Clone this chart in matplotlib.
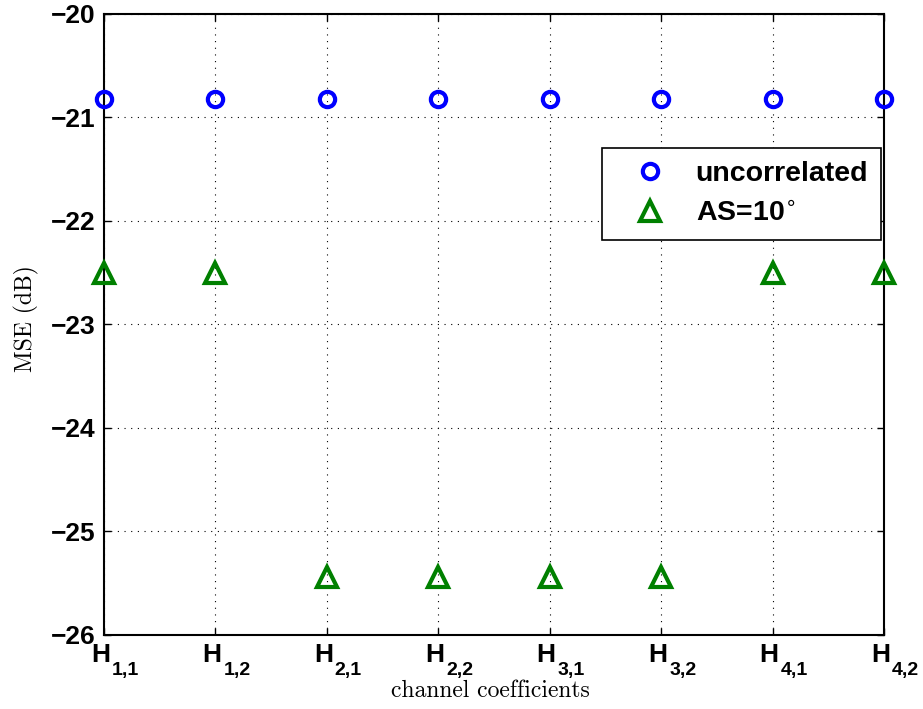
import numpy as np
import matplotlib.pyplot as plt
import matplotlib.transforms as mtransforms

labels = ['1,1', '1,2', '2,1', '2,2', '3,1', '3,2', '4,1', '4,2']
uncorrelated = [-20.82, -20.82, -20.82, -20.82, -20.82, -20.82, -20.82, -20.82]
as10 = [-22.50, -22.50, -25.44, -25.44, -25.44, -25.44, -22.50, -22.50]
yticks = [-26, -25, -24, -23, -22, -21, -20]

fig = plt.figure(figsize=(9.23, 7.09), dpi=100)
ax = fig.add_axes([0.1127, 0.1044, 0.845, 0.8759])

x = np.arange(1, len(labels) + 1)
ax.plot(x, uncorrelated, linestyle='none', marker='o', ms=11, mew=3,
        mfc='none', mec=(0, 0, 1), label='uncorrelated', clip_on=False, zorder=5)
ax.plot(x, as10, linestyle='none', marker='^', ms=15, mew=3,
        mfc='none', mec=(0, 0.5, 0), label=r'AS=10$^{\circ}$', clip_on=False, zorder=5)

ax.set_xlim(1, 8)
ax.set_ylim(-26, -20)
ax.set_xticks(x)
ax.set_xticklabels(['H'] * len(labels))
ax.set_yticks(yticks)
ax.set_yticklabels(['\u2212%d' % -v for v in yticks])

ax.tick_params(direction='in', length=5, width=1, top=True, right=True, pad=6)
ax.grid(True, linestyle=(0, (1, 5)), color='black', linewidth=0.8)
for s in ax.spines.values():
    s.set_linewidth(1.5)

for t in ax.get_yticklabels():
    t.set_fontfamily('Liberation Sans')
    t.set_fontweight('bold')
    t.set_fontsize(19)
shift = mtransforms.ScaledTranslation(6 / 100, 0, fig.dpi_scale_trans)
for t in ax.get_xticklabels():
    t.set_fontfamily('Liberation Sans')
    t.set_fontweight('bold')
    t.set_fontsize(19)
    t.set_ha('right')
    t.set_transform(t.get_transform() + shift)

# subscripts of the channel labels
for xi, l in zip(x, labels):
    ax.annotate(l, xy=(xi, 0), xycoords=ax.get_xaxis_transform(),
                xytext=(8, -27), textcoords='offset pixels', ha='left', va='top',
                fontfamily='Liberation Sans', fontweight='bold', fontsize=14,
                annotation_clip=False)

ax.set_xlabel('channel coefficients', fontfamily='cmr10', fontsize=17)
ax.xaxis.set_label_coords(0.496, -0.072)
ax.set_ylabel('MSE (dB)', fontfamily='cmr10', fontsize=17)
ax.yaxis.set_label_coords(-0.084, 0.51)

leg = ax.legend(loc='upper left', bbox_to_anchor=(0.638, 0.784), fancybox=False,
                edgecolor='black', framealpha=1, borderpad=0.45, handletextpad=0.35,
                prop={'family': 'Liberation Sans', 'weight': 'bold', 'size': 20.5},
                borderaxespad=0, handlelength=2.5, labelspacing=0.5)
leg.get_frame().set_linewidth(1.2)
leg.set_zorder(10)

fig.savefig('out.png', dpi=100)
